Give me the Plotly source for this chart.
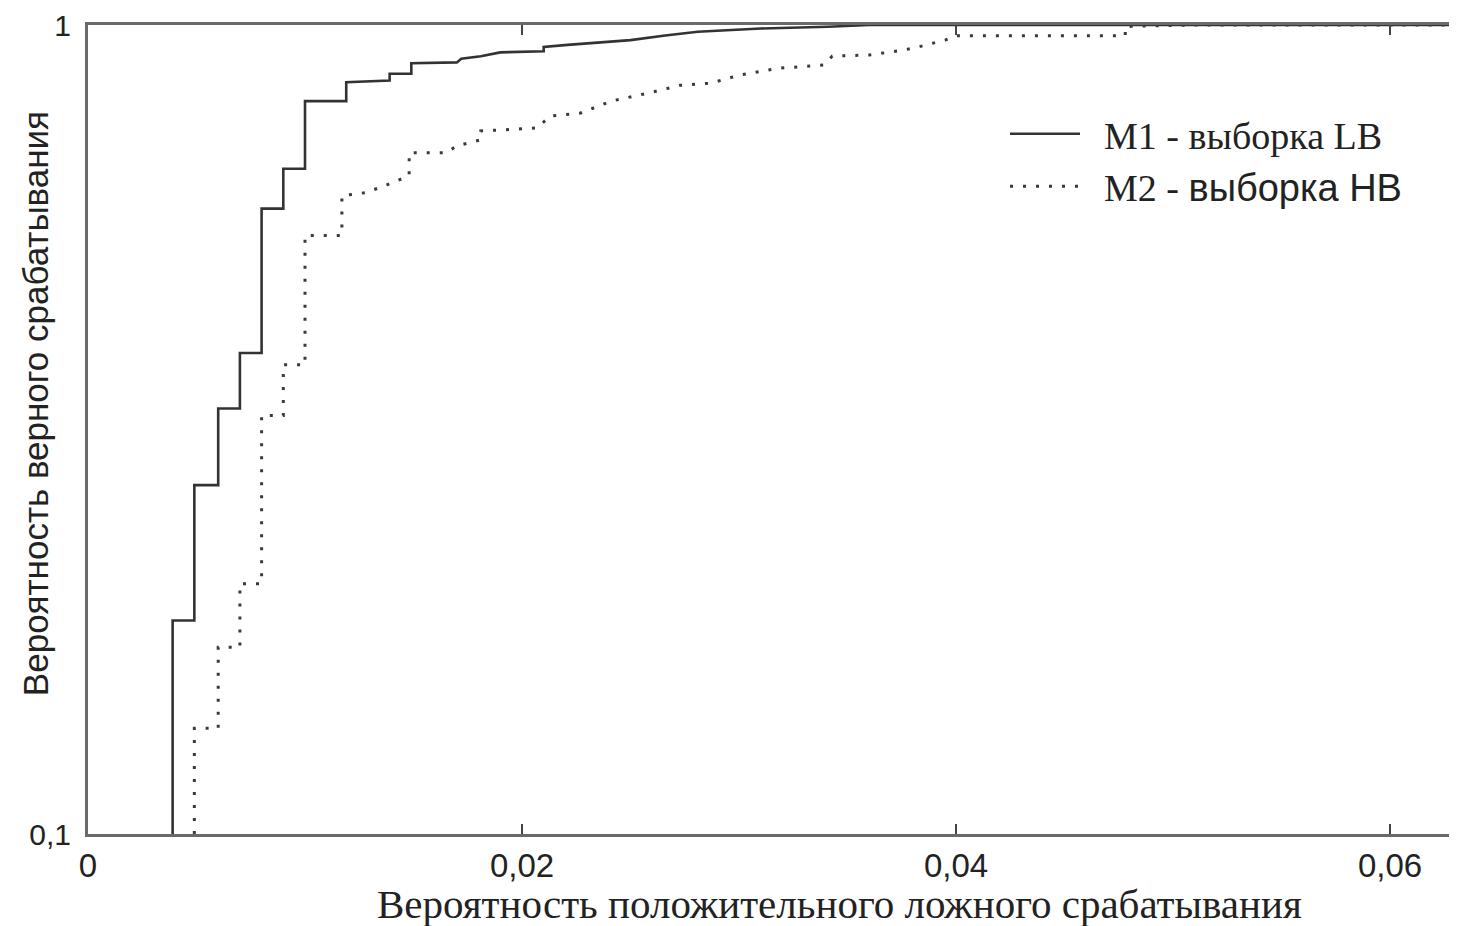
import plotly.graph_objects as go

# ROC data (false-positive probability, true-positive probability)
m1_fpr = [0.0039, 0.0039, 0.0049, 0.0049, 0.0060, 0.0060, 0.0070, 0.0070, 0.0080, 0.0080,
          0.0090, 0.0090, 0.0100, 0.0100, 0.0119, 0.0119, 0.0139, 0.0139, 0.0149, 0.0149,
          0.0170, 0.0172, 0.0181, 0.0190, 0.0210, 0.0210, 0.0221, 0.0250, 0.0266, 0.0281,
          0.0310, 0.0341, 0.0360, 0.0640]
m1_tpr = [0.1, 0.1836, 0.1836, 0.2699, 0.2699, 0.3357, 0.3357, 0.3932, 0.3932, 0.5930,
          0.5930, 0.6642, 0.6642, 0.8051, 0.8051, 0.8496, 0.8540, 0.8703, 0.8703, 0.8967,
          0.8990, 0.9082, 0.9150, 0.9251, 0.9280, 0.9396, 0.9449, 0.9579, 0.9707, 0.9809,
          0.9901, 0.9949, 1.0, 1.0]

m2_fpr = [0.0049, 0.0049, 0.0060, 0.0060, 0.0070, 0.0070, 0.0080, 0.0080, 0.0090, 0.0090,
          0.0100, 0.0100, 0.0117, 0.0117, 0.0128, 0.0138, 0.0148, 0.0148, 0.0165, 0.0170,
          0.0181, 0.0181, 0.0207, 0.0213, 0.0227, 0.0241, 0.0258, 0.0273, 0.0287, 0.0300,
          0.0318, 0.0339, 0.0343, 0.0360, 0.0376, 0.0383, 0.0395, 0.0400, 0.0478, 0.0478,
          0.0509, 0.0640]
m2_tpr = [0.1, 0.1351, 0.1351, 0.1701, 0.1701, 0.2039, 0.2039, 0.3291, 0.3291, 0.3802,
          0.3802, 0.5494, 0.5494, 0.6152, 0.6206, 0.6348, 0.6511, 0.6950, 0.6950, 0.7090,
          0.7211, 0.7396, 0.7459, 0.7719, 0.7783, 0.8051, 0.8236, 0.8424, 0.8474, 0.8668,
          0.8841, 0.8923, 0.9155, 0.9181, 0.9312, 0.9401, 0.9579, 0.9699, 0.9699, 0.9958,
          1.0, 1.0]

x_tickvals = [0, 0.02, 0.04, 0.06]
x_ticktext = ["0", "0,02", "0,04", "0,06"]
y_tickvals = [0.1, 1]
y_ticktext = ["0,1", "1"]

name_m1 = "\u00a0\u00a0M1 - выборка LB"
name_m2 = '\u00a0\u00a0M2 - <span style="font-family:Liberation Sans, Arial, sans-serif">выборка HB</span>'
x_title = "Вероятность положительного ложного срабатывания"
y_title = "Вероятность верного срабатывания"

fig = go.Figure()
fig.add_trace(go.Scatter(x=m1_fpr, y=m1_tpr, mode="lines", name=name_m1,
                         line=dict(color="#333333", width=2.6)))
fig.add_trace(go.Scatter(x=m2_fpr, y=m2_tpr, mode="lines", name=name_m2,
                         line=dict(color="#3a3a3a", width=3, dash="3px,10px")))

# page body has an 8px margin; compensate so the plot lands where the reference has it
OFF = 8
W, H = 1457 - OFF, 926 - OFF
L, R, T, B = 88 - OFF, 0, 21 - OFF, 92
pw, ph = W - L - R, H - T - B


def px_x(p):
    return (p - OFF - L) / pw


def px_y(p):
    return (H - B - (p - OFF)) / ph


fig.update_layout(
    width=W, height=H,
    margin=dict(l=L, r=R, t=T, b=B),
    paper_bgcolor="white", plot_bgcolor="white",
    showlegend=True,
    legend=dict(x=px_x(1005), y=px_y(99), xanchor="left", yanchor="top",
                bgcolor="rgba(0,0,0,0)", borderwidth=0, itemwidth=70,
                font=dict(family="Liberation Serif, Times New Roman, serif", size=38, color="#222"),
                tracegroupgap=13),
    xaxis=dict(range=[0, (1457 - 88) / 21700], showgrid=False, zeroline=False,
               showline=True, linecolor="#6a6a6a", linewidth=3, mirror="ticks",
               ticks="inside", ticklen=10, tickwidth=2, tickcolor="#444",
               tickvals=x_tickvals, ticktext=x_ticktext,
               tickfont=dict(family="Liberation Sans Narrow, Liberation Sans, Arial, sans-serif",
                             size=33, color="#222")),
    yaxis=dict(type="log", range=[-1, 0], showgrid=False, zeroline=False,
               showline=True, linecolor="#6a6a6a", linewidth=3, mirror=False,
               ticks="", tickvals=y_tickvals, ticktext=y_ticktext, ticklabelstandoff=8,
               ticklabeloverflow="allow",
               tickfont=dict(family="Liberation Sans Narrow, Liberation Sans, Arial, sans-serif",
                             size=30, color="#222")),
    annotations=[
        dict(text=x_title, xref="paper", yref="paper", x=px_x(840), y=px_y(904),
             xanchor="center", yanchor="middle", showarrow=False,
             font=dict(family="Liberation Serif, Times New Roman, serif", size=41, color="#222")),
        dict(text=y_title, xref="paper", yref="paper", x=px_x(35), y=px_y(402),
             xanchor="center", yanchor="middle", showarrow=False, textangle=-90,
             font=dict(family="Liberation Sans, Arial, sans-serif", size=35, color="#222")),
    ],
)

fig.write_html("out.html")
